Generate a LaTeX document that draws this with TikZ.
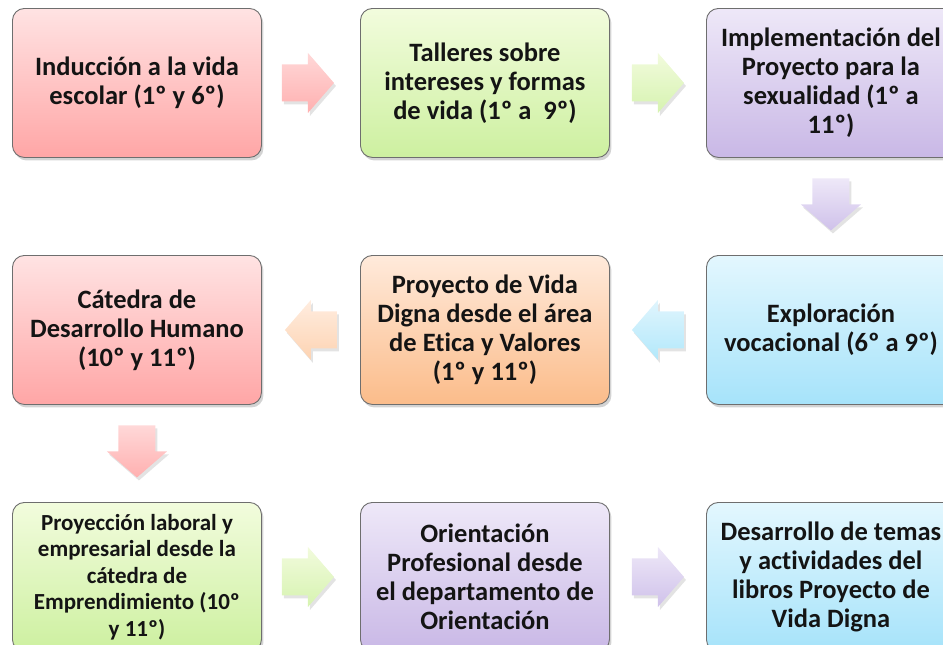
\documentclass[tikz,border=0pt]{standalone}
\usepackage{fontspec}
\setmainfont{Carlito}[Ligatures=NoCommon]
\usetikzlibrary{shadows,calc}
\definecolor{pinkT}{HTML}{FFE3E3}\definecolor{pinkB}{HTML}{FFA6A6}
\definecolor{greenT}{HTML}{F2FCDD}\definecolor{greenB}{HTML}{CDF0A0}
\definecolor{purpT}{HTML}{EEE8F8}\definecolor{purpB}{HTML}{C9B8E6}
\definecolor{oranT}{HTML}{FFEADB}\definecolor{oranB}{HTML}{FBBC8A}
\definecolor{blueT}{HTML}{E3F7FE}\definecolor{blueB}{HTML}{A6E3FA}
\definecolor{apinkT}{HTML}{FFD8D8}\definecolor{apinkB}{HTML}{FFB0B0}
\definecolor{agreenT}{HTML}{F2FBDD}\definecolor{agreenB}{HTML}{D6F3B0}
\definecolor{apurpT}{HTML}{EEE8F8}\definecolor{apurpB}{HTML}{CFC1EA}
\definecolor{ablueT}{HTML}{E0F5FD}\definecolor{ablueB}{HTML}{B2E8FB}
\definecolor{aoranT}{HTML}{FFEDE0}\definecolor{aoranB}{HTML}{FDD3B2}
\definecolor{boxline}{HTML}{6E6E6E}
\definecolor{txt}{HTML}{141414}
\tikzset{
  box/.style={draw=boxline, line width=0.9pt, rounded corners=12pt,
    minimum width=249pt, minimum height=149pt, inner sep=0pt,
    align=center, text=txt, anchor=north west,
    font=\fontsize{26.5}{29}\selectfont\bfseries,
    drop shadow={opacity=0.35, shadow xshift=2pt, shadow yshift=-3pt}},
  smalltext/.style={font=\fontsize{23}{26.5}\selectfont\bfseries},
  pinkbox/.style={box, top color=pinkT, bottom color=pinkB},
  greenbox/.style={box, top color=greenT, bottom color=greenB},
  purpbox/.style={box, top color=purpT, bottom color=purpB},
  oranbox/.style={box, top color=oranT, bottom color=oranB},
  bluebox/.style={box, top color=blueT, bottom color=blueB},
  arrshade/.style={},
  arrbase/.style={drop shadow={opacity=0.22, shadow xshift=2pt, shadow yshift=-3pt}},
  rarr/.pic={\path[arrbase, arrshade] (-26,-18.5) -- (0,-18.5) -- (0,-30) -- (26,0) -- (0,30) -- (0,18.5) -- (-26,18.5) -- cycle;},
  larr/.pic={\path[arrbase, arrshade] (26,-18.5) -- (0,-18.5) -- (0,-30) -- (-26,0) -- (0,30) -- (0,18.5) -- (26,18.5) -- cycle;},
  darr/.pic={\path[arrbase, arrshade] (-18.5,-26) -- (-18.5,0) -- (-30,0) -- (0,26) -- (30,0) -- (18.5,0) -- (18.5,-26) -- cycle;},
}
\begin{document}
\begin{tikzpicture}[x=1pt,y=-1pt]
\useasboundingbox (0,0) rectangle (943,645);
\clip (0,0) rectangle (943,645);
% row 1
\node[pinkbox] (b1) at (12,8) {Inducción a la vida\\escolar (1º y 6º)};
\node[greenbox] (b2) at (360,8) {Talleres sobre\\intereses y formas\\de vida (1º a\ \ 9º)};
\node[purpbox] (b3) at (706,8) {Implementación del\\Proyecto para la\\sexualidad (1º a\\11º)};
% row 2
\node[pinkbox] (b4) at (12,255) {Cátedra de\\Desarrollo Humano\\(10º y 11º)};
\node[oranbox] (b5) at (360,255) {Proyecto de Vida\\Digna desde el área\\de Etica y Valores\\(1º y 11º)};
\node[bluebox] (b6) at (706,255) {Exploración\\vocacional (6º a 9º)};
% row 3
\node[greenbox, smalltext] (b7) at (12,502) {Proyección laboral y\\empresarial desde la\\cátedra de\\Emprendimiento (10º\\y 11º)};
\node[purpbox] (b8) at (360,502) {Orientación\\Profesional desde\\el departamento de\\Orientación};
\node[bluebox] (b9) at (706,502) {Desarrollo de temas\\y actividades del\\libros Proyecto de\\Vida Digna};
% arrows
\pic[arrshade/.style={top color=apinkT, bottom color=apinkB}] (a12) at ($(b1.east)!0.5!(b2.west)+(-3,0)$) {rarr};
\pic[arrshade/.style={top color=agreenT, bottom color=agreenB}] (a23) at ($(b2.east)!0.5!(b3.west)$) {rarr};
\pic[arrshade/.style={top color=apurpT, bottom color=apurpB}] (a36) at ($(b3.south)!0.5!(b6.north)+(0,-2)$) {darr};
\pic[arrshade/.style={top color=ablueT, bottom color=ablueB}] (a65) at ($(b6.west)!0.5!(b5.east)$) {larr};
\pic[arrshade/.style={top color=aoranT, bottom color=aoranB}] (a54) at ($(b5.west)!0.5!(b4.east)$) {larr};
\pic[arrshade/.style={top color=apinkT, bottom color=apinkB}] (a47) at ($(b4.south)!0.5!(b7.north)+(0,-2)$) {darr};
\pic[arrshade/.style={top color=agreenT, bottom color=agreenB}] (a78) at ($(b7.east)!0.5!(b8.west)+(-3,0)$) {rarr};
\pic[arrshade/.style={top color=apurpT, bottom color=apurpB}] (a89) at ($(b8.east)!0.5!(b9.west)$) {rarr};
\end{tikzpicture}
\end{document}
